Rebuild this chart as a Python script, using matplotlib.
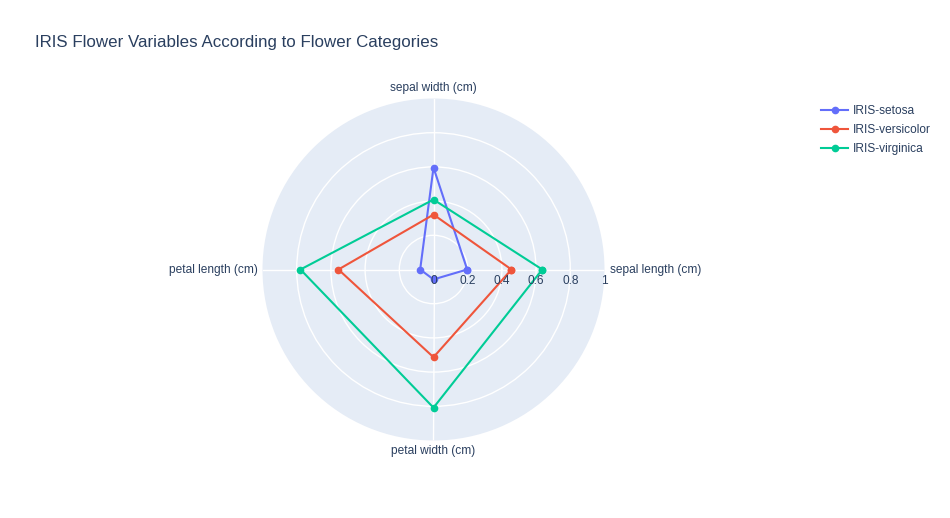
import matplotlib.pyplot as plt
import numpy as np

plt.rcParams['font.family'] = ['Liberation Sans', 'DejaVu Sans']

# datos normalizados (medias por especie)
variables = ['sepal length (cm)', 'sepal width (cm)', 'petal length (cm)', 'petal width (cm)']
setosa = [0.197, 0.596, 0.078, 0.058]
versicolor = [0.456, 0.321, 0.556, 0.513]
virginica = [0.636, 0.409, 0.778, 0.808]
especies = ['IRIS-setosa', 'IRIS-versicolor', 'IRIS-virginica']
radial_ticks = [0, 0.2, 0.4, 0.6, 0.8, 1]

colores = ['#636efa', '#EF553B', '#00cc96']
texto = '#2a3f5f'

fig = plt.figure(figsize=(9.5, 5.18), dpi=100)
W, H = 950, 518
cx, cy, R = 433.5, 269.5, 171
ax = fig.add_axes([(cx - R) / W, (H - cy - R) / H, 2 * R / W, 2 * R / H], projection='polar')
ax.set_facecolor('#E5ECF6')
ax.spines['polar'].set_visible(False)

angulos = np.deg2rad(np.arange(len(variables)) * 360 / len(variables))
ang_cerrado = np.append(angulos, angulos[0])

for nombre, valores, col in zip(especies, [setosa, versicolor, virginica], colores):
    v = np.append(valores, valores[0])
    ax.plot(ang_cerrado, v, color=col, lw=1.5, marker='o', ms=4.5, label=nombre, clip_on=False, zorder=3)

ax.set_ylim(0, 1)
ax.set_yticks(radial_ticks[1:-1])
ax.set_yticklabels([])
ax.set_xticks(angulos)
ax.set_xticklabels([])
ax.grid(True, color='white', lw=1)
ax.tick_params(length=0)

# etiquetas radiales
for r in radial_ticks:
    ax.annotate('%g' % r, xy=(0, r), xytext=(0, -11), textcoords='offset pixels',
                ha='center', va='center', fontsize=8.6, color=texto, zorder=4,
                annotation_clip=False)

# etiquetas angulares
desplaz = [(5, 0, 'left', 'center'), (0, 11, 'center', 'center'),
           (-5, 0, 'right', 'center'), (0, -11, 'center', 'center')]
for a, lab, (dx, dy, ha, va) in zip(angulos, variables, desplaz):
    ax.annotate(lab, xy=(a, 1), xytext=(dx, dy), textcoords='offset pixels',
                ha=ha, va=va, fontsize=8.6, color=texto, annotation_clip=False)

fig.text(35 / W, 1 - 42 / H, 'IRIS Flower Variables According to Flower Categories',
         fontsize=12.15, color=texto, va='center', ha='left')

leg = fig.legend(loc='upper left', bbox_to_anchor=(821 / W, 1 - 105.5 / H), frameon=False,
                 fontsize=8.6, handlelength=2.3, handletextpad=0.4, labelspacing=0.58,
                 borderaxespad=0, borderpad=0)
for t in leg.get_texts():
    t.set_color(texto)

fig.savefig('out.png', dpi=100, facecolor='white')
